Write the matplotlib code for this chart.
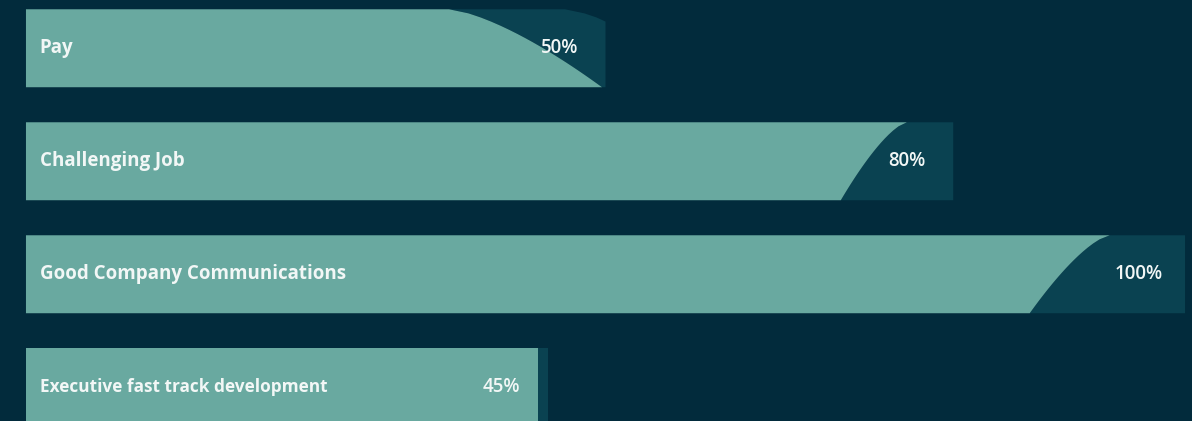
import numpy as np
import matplotlib.pyplot as plt
from matplotlib.patches import Polygon

# data
labels = ["Pay", "Challenging Job", "Good Company Communications", "Executive fast track development"]
values = [50, 80, 100, 45]

# look of the brushed bar ends (in % units, how far the teal stops short of the end)
cut_top = [13.5, 4.0, 6.5, 0.8]
cut_bottom = [0.3, 9.7, 13.4, 0.8]
splash_w = [10.0, 20.0, 20.0, 2.5]

bg = "#022b3c"
teal = "#69a9a0"
splash = "#0a4251"

fig = plt.figure(figsize=(11.92, 4.21), dpi=100)
fig.patch.set_facecolor(bg)
ax = fig.add_axes([0, 0, 1, 1])
ax.set_facecolor(bg)

y = np.arange(len(values))
h = 0.69

for i, v in enumerate(values):
    top = y[i] - h / 2
    bot = y[i] + h / 2
    t = np.linspace(0, 1, 20)
    xs = v - (cut_top[i] + (cut_bottom[i] - cut_top[i]) * t ** 0.7)
    ys = top + (bot - top) * t

    # darker splash area behind the brushed edge
    xs2 = np.minimum(xs + splash_w[i], v)
    spl = list(zip(xs, ys)) + list(zip(xs2[::-1], ys[::-1]))
    ax.add_patch(Polygon(spl, closed=True, color=splash, lw=0, zorder=1))

    # teal body
    pts = [(0, top)] + list(zip(xs, ys)) + [(0, bot)]
    ax.add_patch(Polygon(pts, closed=True, color=teal, lw=0, zorder=2))

    size = 13.5 if i < 3 else 12.4
    ax.text(1.2, y[i], labels[i], color="#f2f7f6", fontsize=size,
            fontweight="bold", family="Open Sans", va="center", ha="left", zorder=3)
    ax.text(v - 4, y[i], f"{v}%", color="#f2f7f6", fontsize=13.5,
            fontweight="semibold", family="Open Sans", va="center", ha="center", zorder=3)

ax.set_xlim(-2.24, 100.6)
ax.set_ylim(-0.427 + 421 / 113, -0.427)
ax.axis("off")

plt.savefig("out.png", dpi=100, facecolor=bg)
